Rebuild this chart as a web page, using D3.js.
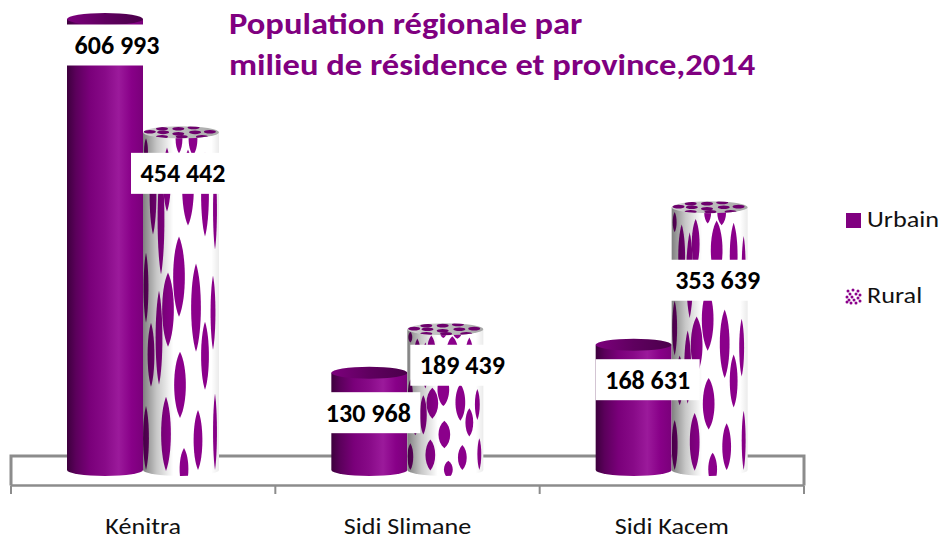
<!DOCTYPE html>
<html>
<head>
<meta charset="utf-8">
<script src="https://cdn.jsdelivr.net/npm/d3@7"></script>
<style>
  html, body { margin: 0; background: #fff; }
  svg { display: block; font-family: Carlito, Calibri, Lato, sans-serif; }
</style>
</head>
<body>
<svg id="chart"></svg>
<script>
const width = 942;
const height = 540;

//Data
const provinces = ["Kénitra", "Sidi Slimane", "Sidi Kacem"];
const seriesNames = ["Urbain", "Rural"];
const urbain = [606993, 130968, 168631];
const rural = [454442, 189439, 353639];
const titleLines = ["Population régionale par", "milieu de résidence et province,2014"];

//Hand placed labels, offset from the top centre of each cylinder
const labelShiftX = { Urbain: [12, -1, 14], Rural: [2, 17, 8] };
const labelShiftY = { Urbain: [26, 40, 35], Rural: [41, 36, 73] };

const svg = d3.select("svg#chart").attr("width", width).attr("height", height);
const defs = svg.append("defs");

const purple = "#8b008b";
const axisGrey = "#8c8c8c";
const floorBack = 456;
const floorFront = 485.5;

// Lato runs narrower than the font in the picture, widen it to fit
function widen(selection, factor) {
  selection.each(function() {
    const t = d3.select(this);
    t.attr("textLength", this.getComputedTextLength() * factor)
      .attr("lengthAdjust", "spacingAndGlyphs");
  });
}

// Scales
const x = d3.scaleBand().domain(provinces).range([11, 804]);
const xInner = d3.scaleBand().domain(seriesNames).range([56, 208]);
const y = d3.scaleLinear().domain([0, 606993]).range([470, 19]);

const rx = xInner.bandwidth() / 2;
const ry = 6;

// Gradients
function gradient(id, stops) {
  defs.append("linearGradient").attr("id", id)
    .selectAll("stop").data(stops).enter().append("stop")
    .attr("offset", d => d[0])
    .attr("stop-color", d => d[1])
    .attr("stop-opacity", d => d[2] === undefined ? 1 : d[2]);
}
gradient("urbanBody", [[0, "#3d003d"], [0.12, "#5c005c"], [0.3, "#7a007a"], [0.5, "#880a88"], [0.68, "#9b1a9b"], [0.85, "#880088"], [1, "#7a007a"]]);
gradient("urbanCap", [[0, "#7d007d"], [0.5, "#5f005f"], [1, "#4b004b"]]);
gradient("ruralShade", [[0, "#000", 0.5], [0.18, "#000", 0.22], [0.4, "#000", 0], [0.9, "#000", 0], [1, "#000", 0.08]]);
gradient("ruralCap", [[0, "#d0d0d0"], [0.5, "#bdbdbd"], [1, "#a8a8a8"]]);

// Floor of the 3D chart, behind the cylinders
const floor = svg.append("g").attr("id", "floor")
  .attr("stroke", axisGrey).attr("fill", "none");
floor.append("path").attr("stroke-width", 3)
  .attr("d", `M${x.range()[0]},${floorFront}V${floorBack}H${x.range()[1]}V${floorFront}`);
floor.append("line").attr("stroke-width", 2.5)
  .attr("x1", x.range()[0]).attr("x2", x.range()[1])
  .attr("y1", floorFront).attr("y2", floorFront);
floor.selectAll("line.tick")
  .data(d3.range(provinces.length + 1))
  .enter().append("line").attr("class", "tick")
  .attr("stroke-width", 2)
  .attr("x1", i => x.range()[0] + i * x.step())
  .attr("x2", i => x.range()[0] + i * x.step())
  .attr("y1", floorFront).attr("y2", 494);

// Province labels
const xAxis = svg.append("g").attr("id", "xAxis")
  .attr("transform", "translate(0,522)")
  .call(d3.axisBottom(x).tickSize(0).tickPadding(0));
xAxis.select(".domain").remove();
xAxis.selectAll("text")
  .attr("font-family", "Carlito, Calibri, Lato, sans-serif")
  .attr("font-size", 22.5).attr("fill", "#111").attr("dy", "0.55em")
  .call(widen, 1.16);

// The rural texture: lens shaped spots stretched with the height of the cylinder
const textureHeight = 337;
const spots = [
  [36, 7, 3.5, 14], [50, 7, 4.5, 16], [3, 19, 2, 13], [10, 62, 3.5, 40], [18, 87, 3.5, 55],
  [24, 47, 4, 32], [45, 55, 6, 38], [62, 62, 4, 42], [72, 77, 2, 40], [36, 144, 6, 40],
  [25, 177, 6, 37], [53, 175, 5, 44], [70, 180, 2.5, 37], [8, 222, 3.5, 32], [16, 205, 3.5, 47],
  [62, 223, 4, 34], [37, 252, 6, 33], [23, 301, 5, 37], [3, 305, 3, 32], [55, 307, 4.5, 30],
  [41, 336, 4.5, 21], [72, 299, 2, 38], [3, 155, 2.5, 35]
];
const capSpots = [
  [-0.5, -0.6], [-0.07, -0.6], [0.33, -0.8], [-0.47, 0], [-0.07, 0.25], [0.37, 0],
  [0.76, -0.1], [-0.82, -0.1], [-0.5, 0.75], [0.02, 0.75], [0.55, 0.75]
];

function lens(s, k, top) {
  const cx = s[0], cy = top + s[1] * k, a = s[2] * 1.3, b = s[3] * k;
  return `M${cx},${cy - b}C${cx + a},${cy - b * 0.55} ${cx + a},${cy + b * 0.55} ${cx},${cy + b}` +
    `C${cx - a},${cy + b * 0.55} ${cx - a},${cy - b * 0.55} ${cx},${cy - b}Z`;
}

const rows = seriesNames.map((name, s) => ({ name: name, values: s == 0 ? urbain : rural }));
const bars = [];
rows.forEach(row => row.values.forEach((v, i) => bars.push({
  series: row.name, province: provinces[i], value: v, index: i
})));

function barLeft(d) { return x(d.province) + xInner(d.series); }

function bodyPath(d) {
  const top = y(d.value), bottom = y(0), w = xInner.bandwidth();
  return `M0,${top}H${w}V${bottom}A${rx},${ry} 0 0 1 0,${bottom}Z`;
}

const cylinders = svg.append("g").attr("id", "cylinders")
  .selectAll("g")
  .data(bars)
  .enter().append("g")
  .attr("transform", d => "translate(" + barLeft(d) + ",0)");

cylinders.each(function(d, n) {
  const g = d3.select(this);
  const top = y(d.value);
  if (d.series == "Urbain") {
    g.append("path").attr("d", bodyPath(d)).attr("fill", "url(#urbanBody)");
    g.append("ellipse").attr("cx", rx).attr("cy", top).attr("rx", rx).attr("ry", ry)
      .attr("fill", "url(#urbanCap)");
    return;
  }
  const clipId = "clip" + n;
  defs.append("clipPath").attr("id", clipId).append("path").attr("d", bodyPath(d));
  g.append("path").attr("d", bodyPath(d)).attr("fill", "#fff");
  const k = (y(0) - top) / textureHeight;
  g.append("g").attr("clip-path", "url(#" + clipId + ")")
    .selectAll("path").data(spots).enter().append("path")
    .attr("d", s => lens(s, k, top))
    .attr("fill", purple);
  g.append("path").attr("d", bodyPath(d)).attr("fill", "url(#ruralShade)");
  const capClip = "capClip" + n;
  defs.append("clipPath").attr("id", capClip).append("ellipse")
    .attr("cx", rx).attr("cy", top).attr("rx", rx).attr("ry", ry);
  g.append("ellipse").attr("cx", rx).attr("cy", top).attr("rx", rx).attr("ry", ry)
    .attr("fill", "url(#ruralCap)");
  g.append("g").attr("clip-path", "url(#" + capClip + ")")
    .selectAll("ellipse").data(capSpots).enter().append("ellipse")
    .attr("cx", s => rx + s[0] * rx).attr("cy", s => top + s[1] * ry)
    .attr("rx", 6).attr("ry", 1.8)
    .attr("fill", "#6d006d");
});

// Value labels on white boxes
const labels = svg.append("g").attr("id", "labels")
  .selectAll("g").data(bars).enter().append("g")
  .attr("transform", d => "translate(" +
    (barLeft(d) + rx + labelShiftX[d.series][d.index]) + "," +
    (y(d.value) + labelShiftY[d.series][d.index]) + ")");
labels.append("rect")
  .attr("x", -52).attr("y", -20.5).attr("width", 104).attr("height", 41)
  .attr("fill", "#fff");
labels.append("text")
  .attr("text-anchor", "middle").attr("dy", "0.35em")
  .attr("font-size", 26).attr("font-weight", 700).attr("fill", "#000")
  .text(d => d3.format(",")(d.value).replace(",", " "));

// Title
svg.append("g").attr("id", "title")
  .selectAll("text").data(titleLines).enter().append("text")
  .attr("x", 229).attr("y", (d, i) => 34 + i * 41)
  .attr("font-size", 29.5).attr("font-weight", 700).attr("fill", "#800080")
  .text(d => d)
  .call(widen, 1.17);

// Legend
const legend = svg.append("g").attr("id", "legend")
  .selectAll("g").data(seriesNames).enter().append("g")
  .attr("transform", (d, i) => "translate(846," + (213 + i * 76) + ")");
legend.append("text")
  .attr("x", 21).attr("y", 7.5).attr("dy", "0.3em")
  .attr("font-size", 23).attr("fill", "#111")
  .text(d => d)
  .call(widen, 1.14);

const legendDots = [[2, 2], [7, 1], [12, 2], [4, 5], [10, 5], [14, 6], [1, 8], [6, 8], [12, 9], [3, 11], [8, 11], [14, 12], [5, 14], [10, 14], [1, 13]];
legend.each(function(d) {
  const g = d3.select(this);
  if (d == "Urbain") {
    g.append("rect").attr("width", 15).attr("height", 15).attr("fill", "#800080");
  } else {
    g.selectAll("circle").data(legendDots).enter().append("circle")
      .attr("cx", p => p[0]).attr("cy", p => p[1]).attr("r", 1.5).attr("fill", purple);
  }
});
</script>
</body>
</html>
